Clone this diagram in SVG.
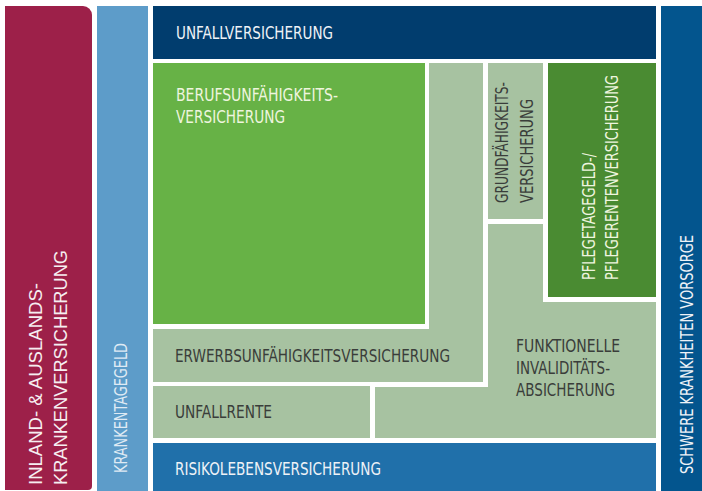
<svg xmlns="http://www.w3.org/2000/svg" width="702" height="491" viewBox="0 0 702 491">
<style>
.c{font-family:"Liberation Sans Narrow","DejaVu Sans Condensed","Liberation Sans",sans-serif;font-size:17.5px}
.w{font-family:"Liberation Sans",Arial,sans-serif;font-size:18.5px;fill:#f6eef1}
.dk{fill:#3a3d3a}
.lt{fill:#eef2f7}
.lg{fill:#eef5df}
</style>
<rect width="702" height="491" fill="#ffffff"/>
<g id="inland">
<path d="M5 6 H83 A9 9 0 0 1 92 15 V486 A4 4 0 0 1 88 490 H5 Z" fill="#9d2049"/>
<text class="w" transform="translate(42,485) rotate(-90)" textLength="202" lengthAdjust="spacingAndGlyphs">INLAND- &amp; AUSLANDS-</text>
<text class="w" transform="translate(67,485) rotate(-90)" textLength="235" lengthAdjust="spacingAndGlyphs">KRANKENVERSICHERUNG</text>
</g>
<g id="krankentagegeld">
<rect x="97" y="6" width="51" height="485" fill="#5d9cc9"/>
<text class="c" fill="#dfeaf4" transform="translate(127,473) rotate(-90)" textLength="130" lengthAdjust="spacingAndGlyphs">KRANKENTAGEGELD</text>
</g>
<g id="unfallversicherung">
<rect x="153" y="6" width="503" height="53" fill="#013d6e"/>
<text class="c lt" x="176" y="39" textLength="157" lengthAdjust="spacingAndGlyphs">UNFALLVERSICHERUNG</text>
</g>
<g id="erwerbsunfaehigkeit">
<rect x="153" y="63" width="330" height="319" fill="#a7c2a1"/>
<text class="c dk" x="175" y="362" textLength="275" lengthAdjust="spacingAndGlyphs">ERWERBSUNFÄHIGKEITSVERSICHERUNG</text>
</g>
<g id="berufsunfaehigkeit">
<rect x="153" y="63" width="276" height="266" fill="#ffffff"/>
<rect x="153" y="63" width="272" height="261" fill="#67b246"/>
<text class="c lg" x="176" y="101" textLength="162" lengthAdjust="spacingAndGlyphs">BERUFSUNFÄHIGKEITS-</text>
<text class="c lg" x="176" y="123" textLength="109" lengthAdjust="spacingAndGlyphs">VERSICHERUNG</text>
</g>
<g id="grundfaehigkeit">
<rect x="488" y="63" width="55" height="156" fill="#a7c2a1"/>
<text class="c dk" transform="translate(508,203) rotate(-90)" textLength="121" lengthAdjust="spacingAndGlyphs">GRUNDFÄHIGKEITS-</text>
<text class="c dk" transform="translate(533,203) rotate(-90)" textLength="104" lengthAdjust="spacingAndGlyphs">VERSICHERUNG</text>
</g>
<g id="funktionelle">
<path d="M488 224 H656 V438 H375 V387 H488 Z" fill="#a7c2a1"/>
<text class="c dk" x="516" y="352" textLength="104" lengthAdjust="spacingAndGlyphs">FUNKTIONELLE</text>
<text class="c dk" x="516" y="374" textLength="94" lengthAdjust="spacingAndGlyphs">INVALIDITÄTS-</text>
<text class="c dk" x="516" y="396" textLength="99" lengthAdjust="spacingAndGlyphs">ABSICHERUNG</text>
</g>
<g id="pflege">
<rect x="543" y="63" width="113" height="239" fill="#ffffff"/>
<rect x="548" y="63" width="108" height="234" fill="#4a8b32"/>
<text class="c lg" transform="translate(595,280) rotate(-90)" textLength="127" lengthAdjust="spacingAndGlyphs">PFLEGETAGEGELD-/</text>
<text class="c lg" transform="translate(618,280) rotate(-90)" textLength="205" lengthAdjust="spacingAndGlyphs">PFLEGERENTENVERSICHERUNG</text>
</g>
<g id="unfallrente">
<rect x="153" y="386" width="217" height="52" fill="#a7c2a1"/>
<text class="c dk" x="175" y="418" textLength="97" lengthAdjust="spacingAndGlyphs">UNFALLRENTE</text>
</g>
<g id="risikoleben">
<rect x="153" y="443" width="503" height="48" fill="#2070aa"/>
<text class="c lt" x="175" y="475" textLength="206" lengthAdjust="spacingAndGlyphs">RISIKOLEBENSVERSICHERUNG</text>
</g>
<g id="schwere">
<rect x="661" y="6" width="41" height="485" fill="#03558e"/>
<text class="c lt" transform="translate(693,474) rotate(-90)" textLength="239" lengthAdjust="spacingAndGlyphs">SCHWERE KRANKHEITEN VORSORGE</text>
</g>
</svg>
